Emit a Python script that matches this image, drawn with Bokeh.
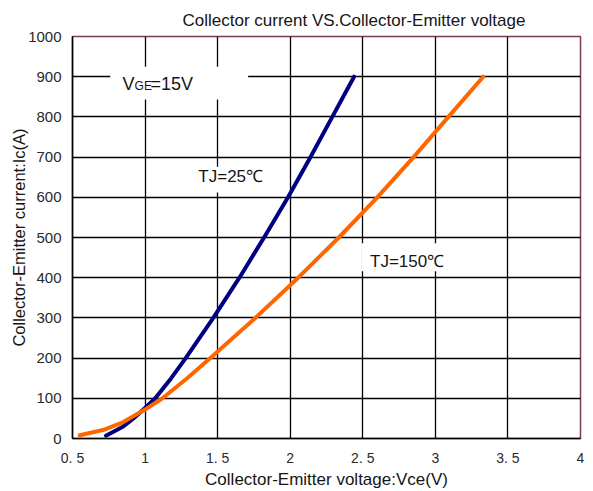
from bokeh.plotting import figure
from bokeh.models import Range1d, FixedTicker, Label, BoxAnnotation
from bokeh.embed import file_html
from bokeh.resources import INLINE

# Output characteristics: collector current vs collector-emitter voltage (VGE = 15 V)
vce_25 = [0.73, 0.85, 0.92, 1.00, 1.07, 1.18, 1.28, 1.47, 1.65, 1.82, 1.985, 2.14, 2.29, 2.44]
ic_25 = [7, 30, 50, 76, 100, 150, 200, 300, 400, 500, 600, 700, 800, 900]

vce_150 = [0.55, 0.71, 0.85, 1.00, 1.12, 1.29, 1.45, 1.76, 2.055, 2.335, 2.60, 2.85, 3.09, 3.33]
ic_150 = [8, 21, 41, 72, 100, 150, 200, 300, 400, 500, 600, 700, 800, 900]

x_ticks = [0.5, 1.0, 1.5, 2.0, 2.5, 3.0, 3.5, 4.0]
x_tick_labels = ["0. 5", "1", "1. 5", "2", "2. 5", "3", "3. 5", "4"]
y_ticks = [0, 100, 200, 300, 400, 500, 600, 700, 800, 900, 1000]

FONT = "Liberation Sans"
TEXT = "#151515"

p = figure(width=593, height=491, output_backend="svg", toolbar_location=None,
           x_range=Range1d(0.5, 4.0), y_range=Range1d(0, 1000),
           min_border_left=72, min_border_right=13, min_border_top=36, min_border_bottom=53)

p.title.text = "Collector current VS.Collector-Emitter voltage"
p.title.text_font = FONT
p.title.text_font_size = "17px"
p.title.text_font_style = "normal"
p.title.text_color = TEXT
p.title.align = "left"
p.title.offset = 110
p.title.standoff = 14

p.outline_line_color = "#7a3b5c"
p.outline_line_width = 1.5
p.background_fill_color = "white"
p.border_fill_color = "white"

p.xaxis.ticker = FixedTicker(ticks=x_ticks)
p.xaxis.major_label_overrides = {t: l for t, l in zip(x_ticks, x_tick_labels)}
p.yaxis.ticker = FixedTicker(ticks=y_ticks)
p.xaxis.axis_label = "Collector-Emitter voltage:Vce(V)"
p.yaxis.axis_label = "Collector-Emitter current:Ic(A)"

for ax in (p.xaxis, p.yaxis):
    ax.axis_line_color = "black"
    ax.axis_line_width = 1.5
    ax.major_tick_in = 0
    ax.major_tick_out = 0
    ax.minor_tick_line_color = None
    ax.major_label_text_font = FONT
    ax.major_label_text_color = "#2a2a2a"
    ax.axis_label_text_font = FONT
    ax.axis_label_text_font_style = "normal"
    ax.axis_label_text_color = TEXT

p.xaxis.major_label_text_font_size = "14px"
p.yaxis.major_label_text_font_size = "15px"
p.xaxis.axis_label_text_font_size = "17px"
p.yaxis.axis_label_text_font_size = "16.5px"
p.xaxis.major_label_standoff = 11
p.xaxis.axis_label_standoff = 1
p.yaxis.major_label_standoff = 11
p.yaxis.axis_label_standoff = -3

p.grid.grid_line_color = "black"
p.grid.grid_line_width = 1.3
p.grid.grid_line_alpha = 1.0

p.line(vce_25, ic_25, line_color="#000080", line_width=4, line_cap="round", line_join="round")
p.line(vce_150, ic_150, line_color="#ff6600", line_width=4, line_cap="round", line_join="round")

# White boxes behind the annotations, hiding the grid
p.add_layout(BoxAnnotation(left=0.76, right=1.71, bottom=843, top=925,
                           fill_color="white", fill_alpha=1.0, line_color=None))
p.add_layout(BoxAnnotation(left=1.30, right=1.85, bottom=612, top=676,
                           fill_color="white", fill_alpha=1.0, line_color=None))
p.add_layout(BoxAnnotation(left=2.49, right=3.25, bottom=416, top=486,
                           fill_color="white", fill_alpha=1.0, line_color=None))

def add_text(x, y, text, size, x_offset=0, y_offset=0):
    p.add_layout(Label(x=x, y=y, text=text, text_font=FONT, text_font_size=size,
                       text_color=TEXT, text_baseline="middle", text_align="left",
                       x_offset=x_offset, y_offset=y_offset))

add_text(0.845, 881, "V", "18px")
add_text(0.845, 881, "GE", "12px", x_offset=12, y_offset=-2)
add_text(0.845, 881, "=15V", "18px", x_offset=28)
add_text(1.367, 652, "TJ=25\u2103", "17px")
add_text(2.55, 441, "TJ=150\u2103", "17px")

open("out.html", "w").write(file_html(p, INLINE))
